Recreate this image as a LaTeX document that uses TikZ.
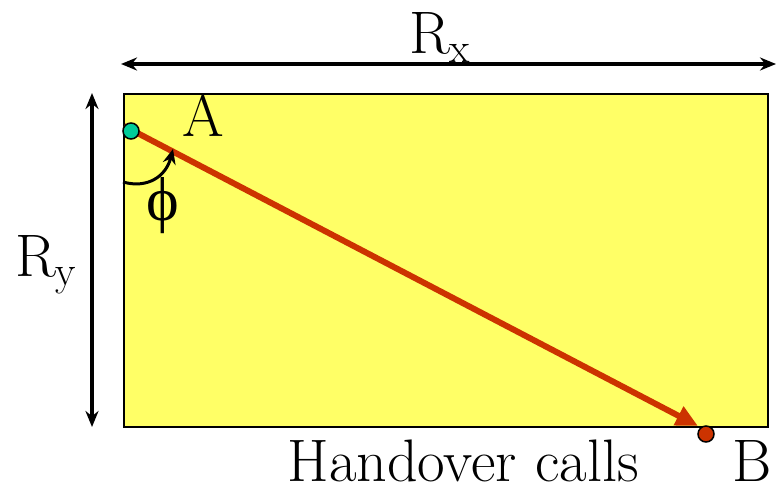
\RequirePackage{fix-cm}
\documentclass[tikz,border=0pt]{standalone}
\usepackage{fontspec}
\newfontfamily\phifont{Liberation Serif}
\usetikzlibrary{arrows.meta}
\definecolor{boxyellow}{HTML}{FFFF66}
\definecolor{pathred}{HTML}{CC3300}
\definecolor{tealdot}{HTML}{00CC99}
\begin{document}
\begin{tikzpicture}[x=1pt,y=-1pt,
  dim/.style={black,line width=3.5pt,{Stealth[length=16pt,width=13pt]}-{Stealth[length=16pt,width=13pt]}},
  lbl/.style={inner sep=0pt,font=\rmfamily\fontsize{60}{64}\selectfont},
  dot/.style={circle,draw=black,line width=1.5pt,minimum size=16pt,inner sep=0pt}]
\useasboundingbox (0,0) rectangle (778,490);
\node[draw=black,line width=2pt,fill=boxyellow,minimum width=644pt,minimum height=333pt,inner sep=0pt,anchor=north west] (box) at (123,93) {};
\coordinate (rxl) at (121,64);
\coordinate (rxr) at (776,64);
\draw[dim] (rxl) -- (rxr);
\node[lbl,anchor=base] (rx) at (440,53) {R\textsubscript{x}};
\coordinate (ryt) at (92,93);
\coordinate (ryb) at (92,427);
\draw[dim] (ryt) -- (ryb);
\node[lbl,anchor=base] (ry) at (46,276) {R\textsubscript{y}};
\coordinate (start) at (124,126);
\coordinate (tip) at (698,426);
\draw[pathred,line width=6pt,-{Triangle[length=22pt,width=20pt]}] (start) -- (tip);
\node[dot,fill=tealdot] (A) at (131,131) {};
\node[dot,fill=pathred] (B) at (706,434) {};
\node[lbl,anchor=base] (Alab) at (203,136) {A};
\node[lbl,anchor=base] (Blab) at (752,481) {B};
\node[lbl,anchor=base] (hc) at (463,481) {Handover calls};
\coordinate (arcs) at (123,182);
\coordinate (arce) at (173,149);
\draw[black,line width=3pt,-{Stealth[length=15pt,width=13pt]}] (arcs) .. controls (148,189) and (166,176) .. (arce);
\node[lbl,anchor=base,font=\phifont\fontsize{62}{66}\selectfont] (phi) at (163,220) {ϕ};
\end{tikzpicture}
\end{document}
